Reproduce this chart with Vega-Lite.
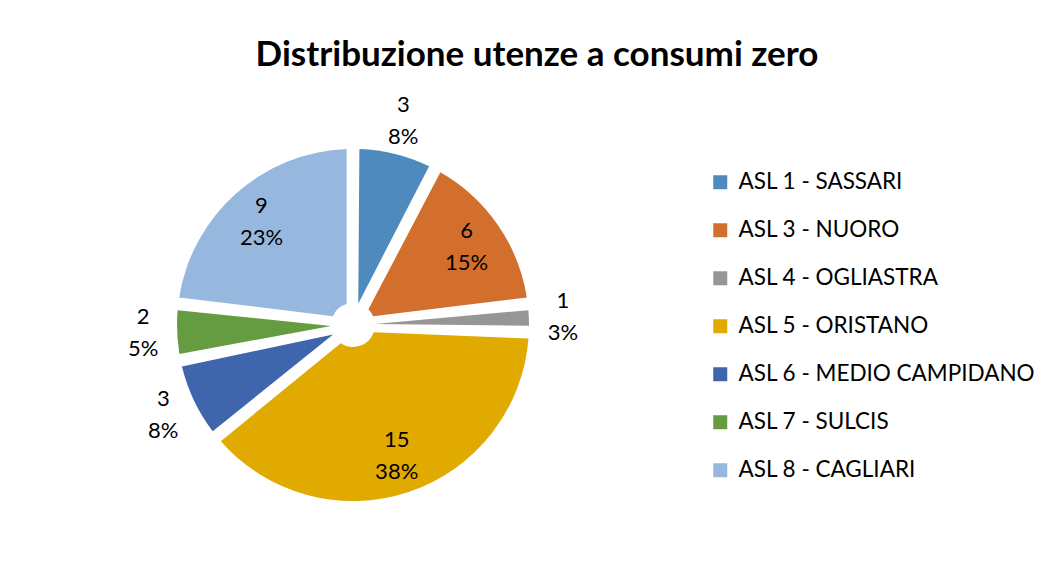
{
  "$schema": "https://vega.github.io/schema/vega-lite/v6.json",
  "autosize": {"type": "none"},
  "width": 698,
  "height": 470,
  "padding": {"left": 4, "top": 90, "right": 352, "bottom": 3},
  "background": "white",
  "title": {
    "text": "Distribuzione utenze a consumi zero",
    "font": "Lato",
    "fontSize": 35,
    "fontWeight": "bold",
    "color": "#000000",
    "anchor": "middle",
    "dx": 184,
    "offset": 17
  },
  "data": {
    "values": [
      {"name": "ASL 1 - SASSARI", "value": 3, "pct": "8%"},
      {"name": "ASL 3 - NUORO", "value": 6, "pct": "15%"},
      {"name": "ASL 4 - OGLIASTRA", "value": 1, "pct": "3%"},
      {"name": "ASL 5 - ORISTANO", "value": 15, "pct": "38%"},
      {"name": "ASL 6 - MEDIO CAMPIDANO", "value": 3, "pct": "8%"},
      {"name": "ASL 7 - SULCIS", "value": 2, "pct": "5%"},
      {"name": "ASL 8 - CAGLIARI", "value": 9, "pct": "23%"}
    ]
  },
  "encoding": {
    "theta": {"field": "value", "type": "quantitative", "stack": true},
    "order": {"field": "name", "type": "ordinal", "sort": "ascending"}
  },
  "layer": [
    {
      "mark": {"type": "arc", "outerRadius": 176, "innerRadius": 22, "padAngle": 0.072},
      "encoding": {
        "color": {
          "field": "name",
          "type": "nominal",
          "scale": {
            "domain": ["ASL 1 - SASSARI", "ASL 3 - NUORO", "ASL 4 - OGLIASTRA", "ASL 5 - ORISTANO", "ASL 6 - MEDIO CAMPIDANO", "ASL 7 - SULCIS", "ASL 8 - CAGLIARI"],
            "range": ["#4F8ABE", "#D36F2D", "#969696", "#E0AA00", "#3F65AD", "#669C41", "#97B8DE"]
          },
          "legend": {
            "title": null,
            "orient": "none",
            "legendX": 705,
            "legendY": 81,
            "padding": 0,
            "symbolType": "square",
            "symbolSize": 196,
            "symbolStrokeWidth": 0,
            "labelFont": "Lato",
            "labelFontSize": 22.5,
            "labelColor": "#000000",
            "labelOffset": 7,
            "rowPadding": 25,
            "labelLimit": 400
          }
        }
      }
    },
    {
      "mark": {"type": "text", "radius": 138, "dy": -16, "font": "Lato", "fontSize": 22, "color": "#000000"},
      "encoding": {
        "text": {"field": "value", "type": "quantitative"},
        "opacity": {"condition": {"test": "datum.value >= 5", "value": 1}, "value": 0}
      }
    },
    {
      "mark": {"type": "text", "radius": 138, "dy": 16, "font": "Lato", "fontSize": 22, "color": "#000000"},
      "encoding": {
        "text": {"field": "pct", "type": "nominal"},
        "opacity": {"condition": {"test": "datum.value >= 5", "value": 1}, "value": 0}
      }
    },
    {
      "mark": {"type": "text", "radius": 210, "dy": -16, "font": "Lato", "fontSize": 22, "color": "#000000"},
      "encoding": {
        "text": {"field": "value", "type": "quantitative"},
        "opacity": {"condition": {"test": "datum.value < 5", "value": 1}, "value": 0}
      }
    },
    {
      "mark": {"type": "text", "radius": 210, "dy": 16, "font": "Lato", "fontSize": 22, "color": "#000000"},
      "encoding": {
        "text": {"field": "pct", "type": "nominal"},
        "opacity": {"condition": {"test": "datum.value < 5", "value": 1}, "value": 0}
      }
    }
  ],
  "config": {
    "view": {"stroke": null},
    "font": "Lato"
  }
}
